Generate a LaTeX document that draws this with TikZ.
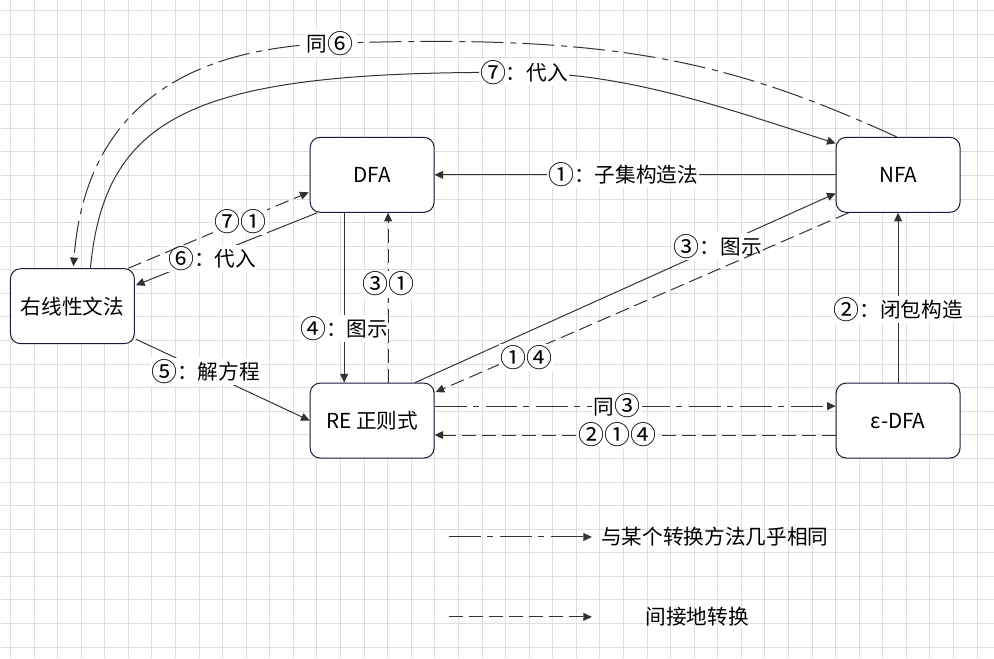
\documentclass[tikz,border=0pt]{standalone}
\usepackage{fontspec}
\setmainfont{Noto Sans CJK SC}
\usetikzlibrary{arrows.meta,calc}
\definecolor{gridgray}{HTML}{DEDEDE}
\definecolor{boxline}{HTML}{1C1C3C}
\definecolor{edgeline}{HTML}{333333}
\newcommand{\circnum}[1]{\raisebox{-1.3pt}{\fontsize{19.5}{18}\selectfont #1}}

\begin{document}
\begin{tikzpicture}[
    x=0.75pt, y=-0.75pt,
    font=\fontsize{15.5}{18}\selectfont,
    gridline/.style={draw=gridgray, line width=0.75pt},
    state/.style={draw=boxline, line width=0.75pt, rounded corners=7.5pt,
                  fill=white, minimum width=93pt, minimum height=56.25pt,
                  inner sep=0pt, align=center},
    flow/.style={draw=edgeline, line width=0.75pt,
                 -{Triangle[length=6.5pt,width=6pt]}},
    indirect/.style={flow, dash pattern=on 10.5pt off 4.5pt},
    similar/.style={flow, dash pattern=on 24pt off 4.5pt on 4.5pt off 5.25pt},
    lbl/.style={fill=white, inner sep=1pt}
  ]
  % Background grid.
  \fill[white] (0,0) rectangle (994,658);
  \foreach \k in {0,...,41}
    \draw[gridline] ({10+23.6*\k},0) -- ({10+23.6*\k},658);
  \foreach \k in {0,...,27}
    \draw[gridline] (0,{10+23.6*\k}) -- (994,{10+23.6*\k});
  \useasboundingbox (0,0) rectangle (994,658);

  % Automata and grammar.
  \node[state] (dfa) at (372,174.5) {DFA};
  \node[state] (nfa) at (898.5,174.5) {NFA};
  \node[state] (gram) at (72,306) {右线性文法};
  \node[state] (re) at (372,420.5) {RE 正则式};
  \node[state] (edfa) at (898.5,420.5) {ε-DFA};

  % Direct conversions.
  \draw[flow] (nfa.west) -- node[lbl, pos=0.53] {\circnum{①}：子集构造法} (dfa.east);
  \draw[flow] (edfa.north) -- node[lbl, pos=0.43] {\circnum{②}：闭包构造} (nfa.south);
  \draw[flow] ($(re.north)+(43,0)$) -- node[lbl, pos=0.72] {\circnum{③}：图示}
    ($(nfa.west)+(0,18.5)$);
  \draw[flow] ($(dfa.south)+(-28,0)$) -- node[lbl, pos=0.68] {\circnum{④}：图示}
    ($(re.north)+(-28,0)$);
  \draw[flow] ($(gram.east)+(1,33)$) -- node[lbl, pos=0.4] {\circnum{⑤}：解方程} (re.west);
  \draw[flow] ($(dfa.south)+(-55,0)$) -- node[lbl, pos=0.58, yshift=-3pt] {\circnum{⑥}：代入}
    ($(gram.east)+(1,-21)$);
  \draw[flow] ($(gram.north)+(18,0)$) .. controls (105,110) and (200,70) ..
    (524,72) node[lbl] {\circnum{⑦}：代入}
    .. controls (630,74) and (720,106) .. ($(nfa.west)+(0,-31.5)$);

  % Indirect conversions.
  \draw[indirect] ($(re.north)+(16,0)$) -- node[lbl, pos=0.58] {\circnum{③①}}
    ($(dfa.south)+(16,0)$);
  \draw[indirect] ($(nfa.south)+(-49.5,0)$) -- node[lbl, pos=0.78, yshift=-3.5pt] {\circnum{①④}}
    ($(re.east)+(1,-28.5)$);
  \draw[indirect] ($(edfa.west)+(0,14.5)$) -- node[lbl, pos=0.545] {\circnum{②①④}}
    ($(re.east)+(0,14.5)$);
  \draw[indirect] ($(gram.north)+(56,0)$) -- node[lbl, pos=0.62] {\circnum{⑦①}}
    ($(dfa.west)+(-1,17.5)$);

  % Nearly the same method.
  \draw[similar] ($(re.east)+(0,-14.5)$) -- node[lbl, pos=0.455] {同\circnum{③}}
    ($(edfa.west)+(0,-14.5)$);
  \draw[similar] ($(nfa.north)+(-1.5,0)$) .. controls (727,59) and (610,33) ..
    (330,43) node[lbl] {同\circnum{⑥}}
    .. controls (190,48) and (85,105) .. ($(gram.north)+(1,-2)$);

  % Legend.
  \coordinate (simstart) at (449,537);
  \coordinate (simend) at (592,537);
  \coordinate (indstart) at (449,617);
  \coordinate (indend) at (592,617);
  \draw[similar] (simstart) -- (simend);
  \draw[indirect] (indstart) -- (indend);
  \node (simtext) at (715,537) {与某个转换方法几乎相同};
  \node (indtext) at (697.5,617) {间接地转换};
\end{tikzpicture}
\end{document}
